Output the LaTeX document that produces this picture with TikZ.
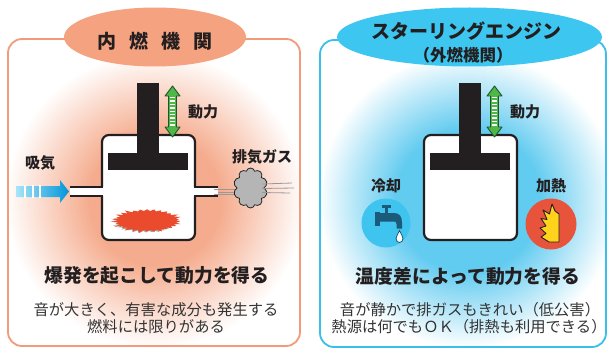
\documentclass[tikz,border=0pt]{standalone}
\usepackage{fontspec}
\setmainfont{Noto Sans CJK JP}
\usetikzlibrary{shapes.symbols}

\definecolor{iceline}{HTML}{F29B7A}
\definecolor{icetitle}{HTML}{F4A280}
\definecolor{iceglow}{HTML}{F5AC8E}
\definecolor{stirline}{HTML}{3BBFEA}
\definecolor{stirtitle}{HTML}{3DC6F0}
\definecolor{stirglow}{HTML}{62CBF0}
\definecolor{ink}{HTML}{231F20}
\definecolor{textgray}{HTML}{333333}
\definecolor{powergreen}{HTML}{4DB848}
\definecolor{powerdark}{HTML}{22532A}
\definecolor{firered}{HTML}{E94B2C}
\definecolor{hotred}{HTML}{E8533B}
\definecolor{coldblue}{HTML}{3FC4EF}
\definecolor{tapblue}{HTML}{1C5A7A}
\definecolor{flameyellow}{HTML}{FFD21C}
\definecolor{smoke}{HTML}{B5B5B5}
\definecolor{airlight}{HTML}{A8E4FA}
\definecolor{airdark}{HTML}{0096D8}

% the path box is mapped onto the inner 25bp of a shading
\pgfdeclareradialshading{iceshade}{\pgfpoint{0bp}{0bp}}{color(0bp)=(iceglow); color(11bp)=(iceglow); color(25bp)=(white); color(50bp)=(white)}
\pgfdeclareradialshading{stirshade}{\pgfpoint{0bp}{0bp}}{color(0bp)=(stirglow); color(12bp)=(stirglow); color(25bp)=(white); color(50bp)=(white)}

\begin{document}
\begin{tikzpicture}[x=1pt,y=-1pt,
  panelbox/.style={rounded corners=14pt, line width=1.8pt},
  titletext/.style={text=ink, inner sep=0, font=\bfseries\fontsize{19}{19}\selectfont},
  subtitle/.style={text=ink, inner sep=0, font=\bfseries\fontsize{16.5}{16.5}\selectfont},
  keytext/.style={text=ink, inner sep=0, font=\bfseries\fontsize{18.8}{19}\selectfont},
  notetext/.style={text=textgray, inner sep=0, font=\fontsize{15.3}{16}\selectfont},
  tagtext/.style={text=ink, inner sep=0, font=\bfseries\fontsize{15}{15}\selectfont},
  cylinder/.style={fill=white, draw=ink, line width=2.2pt, rounded corners=7pt},
  pipe/.style={draw=ink, line width=1.4pt},
  streak/.style={draw=gray!80, line width=0.8pt}]

\useasboundingbox (0,0) rectangle (609,350);

%glow behind both engines
\begin{scope}
  \clip[rounded corners=14pt] (8,39) rectangle (300,346);
  \shade[shading=iceshade] (155,200) ellipse (150 and 148);
\end{scope}
\begin{scope}
  \clip[rounded corners=14pt] (320,40) rectangle (606,347);
  \shade[shading=stirshade] (468,200) ellipse (150 and 148);
\end{scope}

\draw[panelbox, iceline] (8,39) rectangle (300,346);
\draw[panelbox, stirline] (320,40) rectangle (606,347);

%titles
\fill[icetitle] (155,37) ellipse (91 and 29.5);
\node[titletext] (ice-title) at (155,41) {内\hspace{13pt}燃\hspace{13pt}機\hspace{13pt}関};

\fill[stirtitle] (469.5,37) ellipse (132.5 and 29.5);
\node[titletext] (stir-title) at (466,31) {スターリングエンジン};
\node[subtitle] (stir-sub) at (463,55) {（外燃機関）};

%cylinder, piston and power arrow
\foreach \dx in {0,322}{
\begin{scope}[xshift=\dx]
  \draw[cylinder] (102,135) rectangle (195,240);
  \fill[ink] (137,83) rectangle (159,160);
  \fill[ink] (108,153) rectangle (188,170);

  \draw[fill=powergreen, draw=powerdark, line width=0.9pt, line join=round]
    (172.5,86) -- (180,96) -- (176.5,96) -- (176.5,127) -- (180,127) -- (172.5,137)
    -- (165,127) -- (168.5,127) -- (168.5,96) -- (165,96) -- cycle;
  \draw[white, line width=5pt, dash pattern=on 1.4pt off 2pt] (172.5,97) -- (172.5,126);

  \node[tagtext] (power\dx) at (203,112) {動力};
\end{scope}
}

%intake side
\fill[white] (70,187) rectangle (106,196);
\draw[pipe] (70,187) -- (103,187);
\draw[pipe] (70,196) -- (103,196);

\shade[left color=airlight, right color=airdark]
  (16,186) -- (60,186) -- (60,180) -- (69,191.5) -- (60,203) -- (60,197) -- (16,197) -- cycle;
\foreach \gx in {25,33,40}
  \draw[white, line width=1.3pt] (\gx,185) -- (\gx,198);
\node[tagtext] (intake) at (40,163) {吸気};

%exhaust side
\fill[white] (191,187) rectangle (218,196);
\draw[pipe] (194,187) -- (218,187);
\draw[pipe] (194,196) -- (218,196);
\draw[streak] (214,189) -- (236,189);
\draw[streak] (218,192) -- (236,192);
\draw[streak] (214,194.5) -- (234,194.5);

\node[cloud, cloud puffs=10, cloud ignores aspect, draw=gray!30!black, fill=smoke,
      line width=0.8pt, minimum width=34pt, minimum height=40pt, inner sep=0pt] (smoke) at (250.5,188) {};
\draw[streak] (262,184) -- (292,183);
\draw[streak] (262,188.5) -- (294,188);
\draw[streak] (262,192.5) -- (290,193);
\node[tagtext] (exhaust) at (262,157) {排気ガス};

%combustion
\pgfmathsetseed{11}
\fill[black!50, opacity=0.7] (173,222)
  \foreach \i [evaluate=\i as \a using \i*6, evaluate=\i as \r using {1+0.22*mod(\i,2)*(0.4+rnd)}] in {1,...,59}
  { -- ({146+27*\r*cos(\a)},{222+9*\r*sin(\a)}) } -- cycle;
\fill[firered] (176,220.5)
  \foreach \i [evaluate=\i as \a using \i*6, evaluate=\i as \r using {1+0.25*mod(\i,2)*(0.4+rnd)}] in {1,...,59}
  { -- ({147+29*\r*cos(\a)},{220.5+9.5*\r*sin(\a)}) } -- cycle;

%cooling: water tap
\fill[coldblue] (386,223) circle (24.5);
\fill[tapblue] (382,205) rectangle (391,208);
\fill[tapblue] (385,207) rectangle (388,213);
\fill[tapblue] (375,212) rectangle (380,226);
\fill[tapblue] (379,213) -- (394,213) .. controls (400,213) and (402,217) .. (402,223)
  -- (402,228.5) -- (396.5,228.5) -- (396.5,224) .. controls (396.5,222) and (395.5,221.5) .. (394,221.5)
  -- (379,221.5) -- cycle;
\draw[fill=white, draw=tapblue, line width=0.8pt]
  (399.5,230.5) .. controls (400.5,234) and (403,235.5) .. (403,238.5)
  .. controls (403,241) and (401.3,242.5) .. (399.5,242.5)
  .. controls (397.7,242.5) and (396,241) .. (396,238.5)
  .. controls (396,235.5) and (398.5,234) .. cycle;
\node[tagtext] (cooling) at (386,186) {冷却};

%heating: flame
\fill[hotred] (551,224) circle (25.5);
\draw[fill=flameyellow, draw=ink, line width=0.9pt, line join=round]
  (552,204) -- (555,211) -- (559,214) -- (559,242) -- (549,242)
  -- (541,237) -- (546,233.5) -- (540,228) -- (546,226) -- (541,218.5)
  -- (547,219.5) -- (543,210) -- (549.5,214) -- cycle;
\node[tagtext] (heating) at (551,186) {加熱};

%conclusions
\node[keytext] (ice-key) at (157,276) {爆発を起こして動力を得る};
\node[notetext] (ice-note1) at (156,310) {音が大きく、有害な成分も発生する};
\node[notetext] (ice-note2) at (156,327) {燃料には限りがある};

\node[keytext] (stir-key) at (468,276) {温度差によって動力を得る};
\node[notetext] (stir-note1) at (470,310) {音が静かで排ガスもきれい（低公害）};
\node[notetext] (stir-note2) at (469,327) {熱源は何でもＯＫ（排熱も利用できる）};

\end{tikzpicture}
\end{document}
